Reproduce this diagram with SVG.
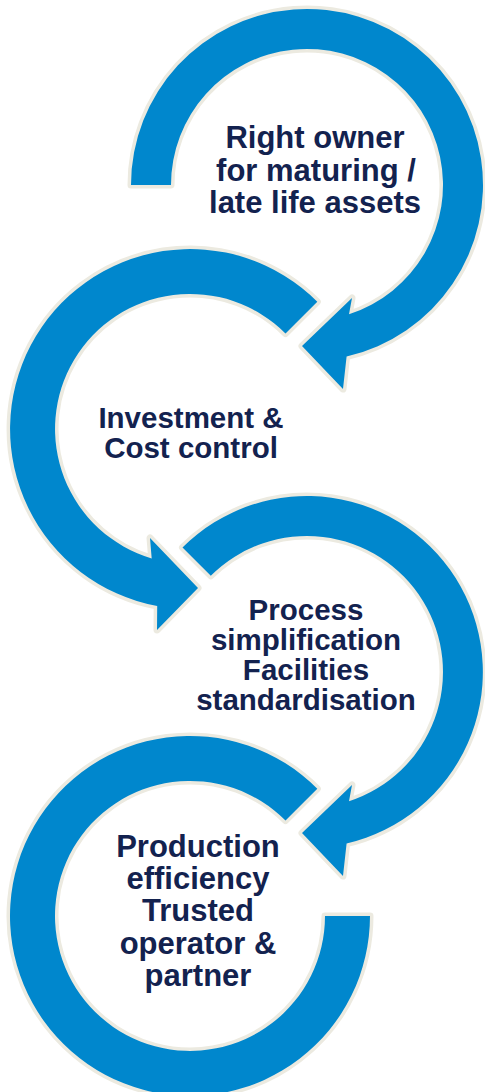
<svg xmlns="http://www.w3.org/2000/svg" width="485" height="1092" viewBox="0 0 485 1092">
  <style>
    .arrow { fill: #0087CD; stroke: #ECEAE0; stroke-width: 7; stroke-linejoin: round; paint-order: stroke; }
    .lbl { font-family: "Liberation Sans", Arial, sans-serif; font-weight: bold; fill: #13224F; text-anchor: middle; }
    .big { font-size: 31px; }
    .mid { font-size: 29.5px; }
  </style>
  <rect width="485" height="1092" fill="#FFFFFF"/>
  <g id="connectors">
    <path id="arrow1" class="arrow" d="M 131,185 A 176 176 0 1 1 346.6,356.5 L 343,389 L 302,346 L 352,298 L 349,314.3 A 136 136 0 1 0 171,185 Z"/>
    <path id="arrow2" class="arrow" d="M 317.3,301.7 A 180 180 0 1 0 157.2,606 L 157,630 L 198,588 L 150,538 L 151.7,558.4 A 135 135 0 1 1 285.5,333.5 Z"/>
    <path id="arrow3" class="arrow" d="M 182.5,547.5 A 176 176 0 1 1 346.6,843.5 L 343,876 L 302,833 L 352,785 L 349,801.3 A 136 136 0 1 0 210.8,575.8 Z"/>
    <path id="arrow4" class="arrow" d="M 317.3,788.7 A 180 180 0 1 0 370,916 L 325,916 A 135 135 0 1 1 285.5,820.5 Z"/>
  </g>
  <g id="node1">
    <text class="lbl big" x="315" y="148">Right owner</text>
    <text class="lbl big" x="316" y="181">for maturing /</text>
    <text class="lbl big" x="315" y="213">late life assets</text>
  </g>
  <g id="node2">
    <text class="lbl mid" x="191" y="428">Investment &amp;</text>
    <text class="lbl mid" x="191" y="458">Cost control</text>
  </g>
  <g id="node3">
    <text class="lbl mid" x="306" y="620">Process</text>
    <text class="lbl mid" x="306" y="650">simplification</text>
    <text class="lbl mid" x="306" y="680">Facilities</text>
    <text class="lbl mid" x="306" y="710">standardisation</text>
  </g>
  <g id="node4">
    <text class="lbl big" x="198" y="857">Production</text>
    <text class="lbl big" x="198" y="889">efficiency</text>
    <text class="lbl big" x="198" y="921">Trusted</text>
    <text class="lbl big" x="198" y="954">operator &amp;</text>
    <text class="lbl big" x="198" y="986">partner</text>
  </g>
</svg>
